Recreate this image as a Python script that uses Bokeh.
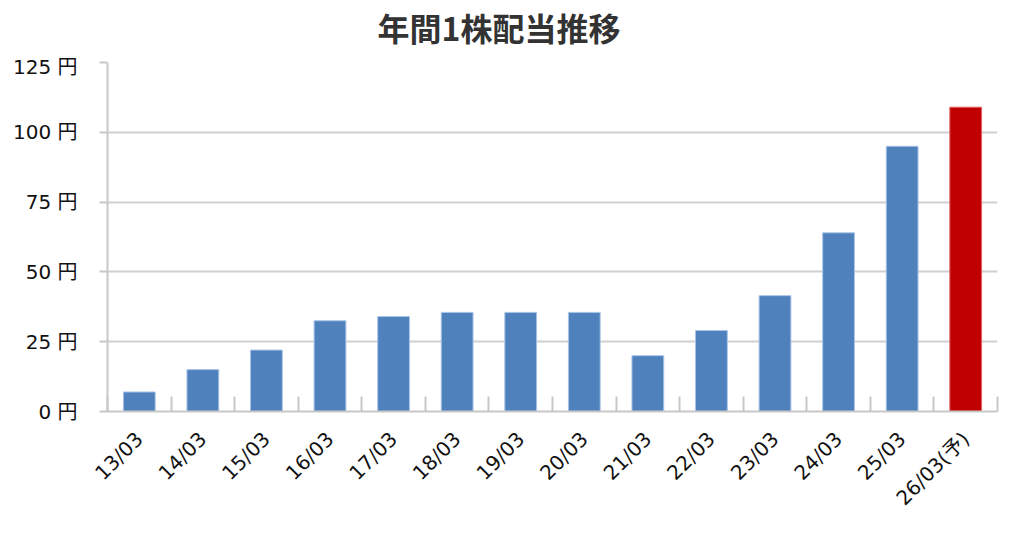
from bokeh.plotting import figure
from bokeh.models import ColumnDataSource, FixedTicker, Range1d, Div
from bokeh.layouts import column
from bokeh.embed import file_html
from bokeh.resources import INLINE
import math

# ---- data ----
categories = ["13/03", "14/03", "15/03", "16/03", "17/03", "18/03", "19/03",
              "20/03", "21/03", "22/03", "23/03", "24/03", "25/03", "26/03(予)"]
dividends = [7, 15, 22, 32.5, 34, 35.5, 35.5, 35.5, 20, 29, 41.5, 64, 95, 109]
is_forecast = [False] * 13 + [True]
y_ticks = [0, 25, 50, 75, 100, 125]
title_text = "年間1株配当推移"

BLUE = "#4F81BD"
RED = "#C00000"
FONT = "Noto Sans CJK JP"
LABEL_FONT = "DejaVu Sans, Noto Sans CJK JP"

n = len(categories)
centers = [i + 0.5 for i in range(n)]
boundaries = [float(i) for i in range(n + 1)]
colors = [RED if f else BLUE for f in is_forecast]
outlines = ["#E06666" if f else "#A9C4E8" for f in is_forecast]

src = ColumnDataSource(dict(x=centers, top=dividends, color=colors, line=outlines))

title_div = Div(text=title_text, width=1008, height=54,
                styles={"font-family": "'Noto Sans CJK JP', sans-serif",
                        "font-size": "32px", "font-weight": "bold",
                        "color": "#333333", "line-height": "54px",
                        "text-align": "center", "width": "998px",
                        "margin": "0", "padding": "0"})

p = figure(width=1008, height=476, output_backend="svg", toolbar_location=None,
           x_range=Range1d(0, n), y_range=Range1d(0, 125),
           min_border_left=107, min_border_right=11, min_border_top=8,
           min_border_bottom=119)

p.vbar(x="x", top="top", width=0.5, bottom=0, source=src,
       fill_color="color", line_color="line", line_width=1)

p.outline_line_color = None
p.background_fill_color = "white"
p.border_fill_color = "white"

# x axis
xa = p.xaxis[0]
xa.ticker = FixedTicker(ticks=centers, minor_ticks=boundaries)
xa.major_label_overrides = {c: lab for c, lab in zip(centers, categories)}
xa.major_label_orientation = math.pi / 4
xa.major_label_text_font = LABEL_FONT
xa.major_label_text_font_size = "20px"
xa.major_label_text_color = "#111111"
xa.major_tick_line_color = None
xa.minor_tick_in = 15
xa.minor_tick_out = 0
xa.minor_tick_line_color = "#C8C8C8"
xa.minor_tick_line_width = 2
xa.axis_line_color = "#C8C8C8"
xa.axis_line_width = 2
xa.major_label_standoff = 18

# y axis
ya = p.yaxis[0]
ya.ticker = FixedTicker(ticks=y_ticks)
ya.major_label_overrides = {t: f"{t} 円" for t in y_ticks}
ya.major_label_text_font = LABEL_FONT
ya.major_label_text_font_size = "20px"
ya.major_label_text_color = "#111111"
ya.major_tick_in = 0
ya.major_tick_out = 8
ya.major_tick_line_color = "#C8C8C8"
ya.major_tick_line_width = 2
ya.minor_tick_line_color = None
ya.axis_line_color = "#C8C8C8"
ya.axis_line_width = 2
ya.major_label_standoff = 22

p.xgrid.grid_line_color = None
p.ygrid.grid_line_color = "#D0D0D0"
p.ygrid.grid_line_width = 2

layout = column(title_div, p, spacing=0)

open("out.html", "w").write(file_html(layout, INLINE))
